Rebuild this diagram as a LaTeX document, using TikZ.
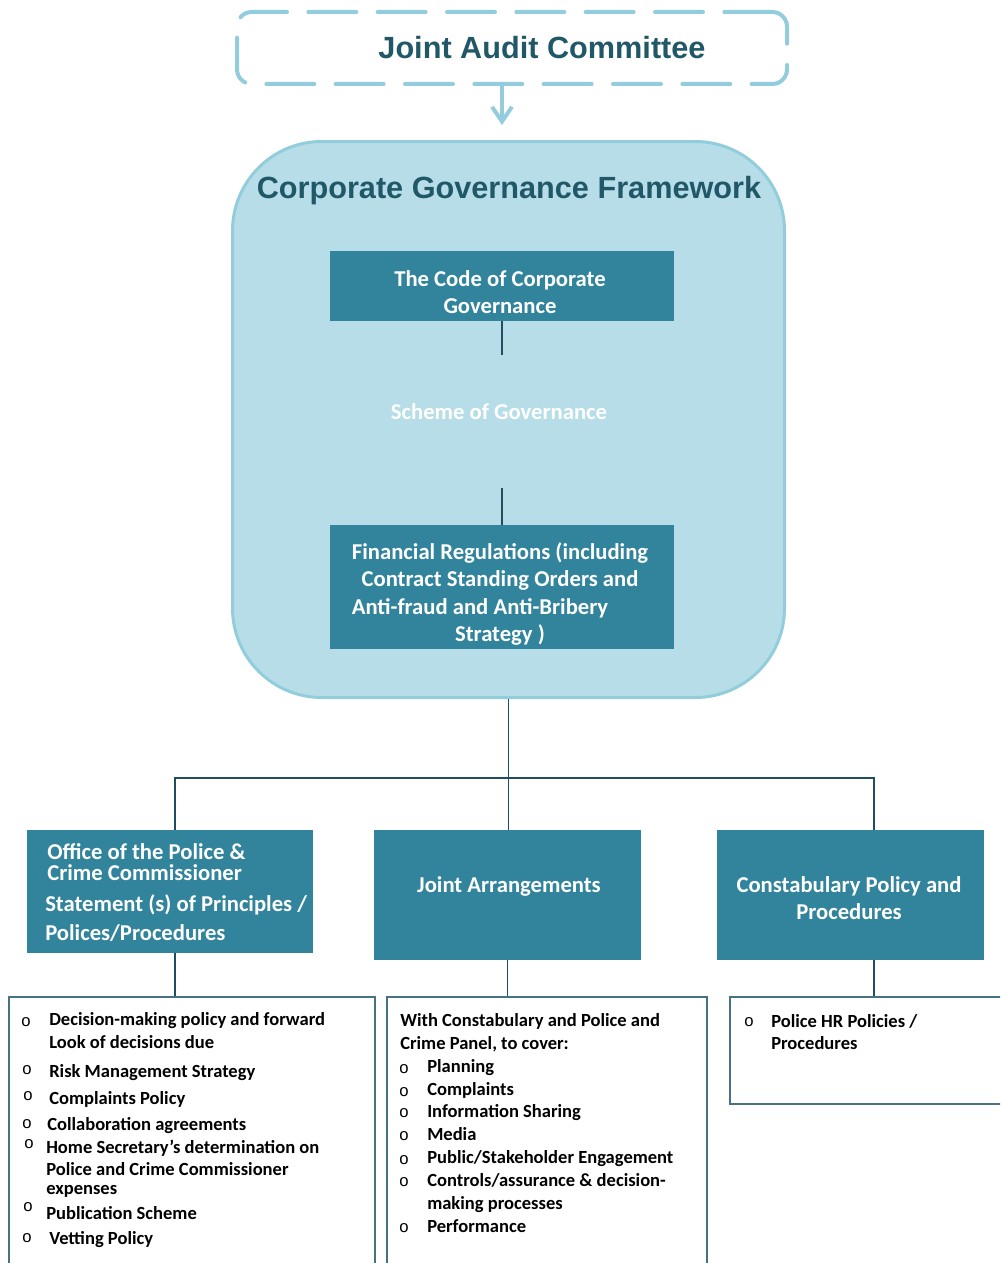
\documentclass[tikz,border=0pt]{standalone}
\usepackage{fontspec}
\setmainfont{Carlito}
\newfontfamily\arialfont{Liberation Sans}
\usetikzlibrary{arrows.meta}
\definecolor{jacblue}{RGB}{147,205,221}
\definecolor{cgffill}{RGB}{183,222,232}
\definecolor{cgfline}{RGB}{146,205,220}
\definecolor{boxfill}{RGB}{49,132,155}
\definecolor{titlecol}{RGB}{33,88,104}
\definecolor{linecol}{RGB}{31,78,95}
\definecolor{listline}{RGB}{70,115,130}
\begin{document}
\begin{tikzpicture}[x=0.75pt,y=-0.75pt,
  tealbox/.style={draw=none, fill=boxfill, inner sep=0pt},
  boxtext/.style={text=white, font=\fontsize{17}{20.5}\selectfont\bfseries, align=center, inner sep=0pt},
  listbox/.style={draw=listline, line width=1.5pt, fill=white, inner sep=0pt},
  conn/.style={draw=linecol, line width=1.1pt},
  listitem/.style={anchor=base west, inner sep=0pt, font=\fontsize{13.9}{17}\selectfont\bfseries, text=black},
  bul/.style={inner sep=0pt, font=\arialfont\fontsize{12.5}{13}\selectfont, text=black},
  bigtitle/.style={font=\arialfont\bfseries\fontsize{23}{27}\selectfont, text=titlecol, inner sep=0pt}
]
\useasboundingbox (0,0) rectangle (1000,1263);
\fill[white] (0,0) rectangle (1000,1263);
\clip (0,0) rectangle (1000,1263);

% Joint Audit Committee
\node[draw=jacblue, line width=3pt, dash pattern=on 36pt off 16pt, line cap=round,
      rounded corners=11pt, minimum width=412.5pt, minimum height=54pt, inner sep=0pt] (jac) at (512,48) {};
\node[bigtitle] (jactext) at (542,48) {Joint Audit Committee};
\coordinate (arrtip) at (502,125);
\draw[jacblue, line width=3pt, line cap=round, line join=round,
      -{Straight Barb[length=11pt,width=15pt]}] (arrtip |- jac.south) -- (arrtip);

% Corporate Governance Framework
\node[draw=cgfline, fill=cgffill, line width=2.25pt, rounded corners=67pt,
      minimum width=414pt, minimum height=417pt, inner sep=0pt] (cgf) at (508.5,419.5) {};
\node[bigtitle] (cgftitle) at (509,191) {Corporate Governance Framework};

\node[tealbox, minimum width=258pt, minimum height=52.5pt] (code) at (502,286) {};
\node[boxtext] (codetext) at (500,292) {The Code of Corporate\\Governance};
\node[boxtext] (scheme) at (499,412) {Scheme of Governance};
\node[tealbox, minimum width=258pt, minimum height=93pt] (fin) at (502,587) {};
\node[boxtext] (fintext) at (500,594)
  {Financial Regulations (including\\Contract Standing Orders and\\Anti-fraud and Anti-Bribery\hspace{30pt}\mbox{}\\Strategy )};
\draw[conn] (code.south) -- ++(0,34);
\draw[conn] (fin.north) -- ++(0,-37);

% second level
\node[tealbox, minimum width=214.5pt, minimum height=92.25pt] (opcc) at (170,891.5) {};
\node[boxtext, anchor=base west] (o1) at (47,859) {Office of the Police \&};
\node[boxtext, anchor=base west] (o2) at (47,880) {Crime Commissioner};
\node[boxtext, anchor=base west] (o3) at (45,911) {Statement (s) of Principles /};
\node[boxtext, anchor=base west] (o4) at (45,940) {Polices/Procedures};

\node[tealbox, minimum width=200.25pt, minimum height=97.5pt] (ja) at (507.5,895) {};
\node[boxtext] (jatext) at (509,886) {Joint Arrangements};

\node[tealbox, minimum width=200.25pt, minimum height=97.5pt] (cons) at (850.5,895) {};
\node[boxtext] (constext) at (849,898) {Constabulary Policy and\\Procedures};

\coordinate (hl) at (175,778);
\coordinate (hr) at (874,778);
\draw[conn] (cgf.south) -- (cgf.south |- ja.north);
\draw[conn] (hl |- opcc.north) -- (hl) -- (hr) -- (hr |- cons.north);

% list boxes
\node[listbox, minimum width=274.5pt, minimum height=220pt] (l1) at (192,1143.5) {};
\node[listbox, minimum width=240pt, minimum height=220pt] (l2) at (547,1143.5) {};
\node[listbox, minimum width=210pt, minimum height=80.25pt] (l3) at (870,1050.5) {};
\draw[conn] (hl |- opcc.south) -- (hl |- l1.north);
\draw[conn] (ja.south) -- (ja.south |- l2.north);
\draw[conn] (hr |- cons.south) -- (hr |- l3.north);

% left list
\node[bul] (b1) at (26,1022) {o};
\node[listitem] (t1a) at (49,1025) {Decision-making policy and forward};
\node[listitem] (t1b) at (49,1048) {Look of decisions due};
\node[bul] (b2) at (27,1070) {o};
\node[listitem] (t2) at (49,1077) {Risk Management Strategy};
\node[bul] (b3) at (28,1096) {o};
\node[listitem] (t3) at (49,1104) {Complaints Policy};
\node[bul] (b4) at (27,1124) {o};
\node[listitem] (t4) at (47,1130) {Collaboration agreements};
\node[bul] (b5) at (29,1144) {o};
\node[listitem] (t5a) at (46,1153) {Home Secretary’s determination on};
\node[listitem] (t5b) at (46,1175) {Police and Crime Commissioner};
\node[listitem] (t5c) at (46,1194) {expenses};
\node[bul] (b6) at (28,1207) {o};
\node[listitem] (t6) at (46,1219) {Publication Scheme};
\node[bul] (b7) at (27,1238) {o};
\node[listitem] (t7) at (49,1244) {Vetting Policy};

% middle list
\node[listitem] (m0a) at (400,1026) {With Constabulary and Police and};
\node[listitem] (m0b) at (400,1049) {Crime Panel, to cover:};
\node[bul] (mb1) at (404,1069) {o};
\node[listitem] (m1) at (427,1072) {Planning};
\node[bul] (mb2) at (404,1092) {o};
\node[listitem] (m2) at (427,1095) {Complaints};
\node[bul] (mb3) at (404,1113) {o};
\node[listitem] (m3) at (427,1117) {Information Sharing};
\node[bul] (mb4) at (404,1136) {o};
\node[listitem] (m4) at (427,1140) {Media};
\node[bul] (mb5) at (404,1160) {o};
\node[listitem] (m5) at (427,1163) {Public/Stakeholder Engagement};
\node[bul] (mb6) at (404,1182) {o};
\node[listitem] (m6a) at (427,1186) {Controls/assurance \& decision-};
\node[listitem] (m6b) at (427,1209) {making processes};
\node[bul] (mb7) at (404,1228) {o};
\node[listitem] (m7) at (427,1232) {Performance};

% right list
\node[bul] (rb1) at (749,1022) {o};
\node[listitem] (r1a) at (771,1027) {Police HR Policies /};
\node[listitem] (r1b) at (771,1049) {Procedures};
\end{tikzpicture}
\end{document}
